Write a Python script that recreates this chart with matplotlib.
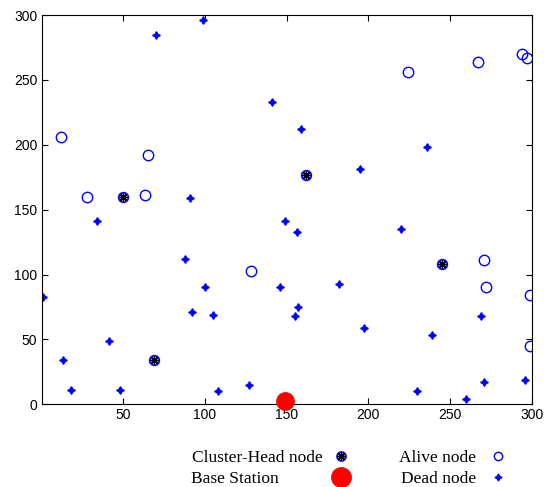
import matplotlib
matplotlib.use("Agg")
import matplotlib.pyplot as plt
from matplotlib.lines import Line2D
from matplotlib.legend_handler import HandlerTuple

# node positions
alive_x = [12, 28, 63, 65, 128, 224, 267, 294, 297, 271, 272, 299, 299]
alive_y = [206, 160, 161, 192, 103, 256, 264, 270, 267, 111, 90, 84, 45]

head_x = [50, 162, 69, 245]
head_y = [160, 177, 34, 108]

dead_x = [70, 99, 141, 91, 159, 236, 195, 34, 88, 1, 100, 92, 105, 41, 13, 18,
          48, 108, 127, 146, 149, 156, 220, 182, 157, 155, 269, 197, 239, 296,
          271, 230, 260]
dead_y = [285, 296, 233, 159, 212, 198, 181, 141, 112, 83, 90, 71, 69, 49, 34, 11,
          11, 10, 15, 90, 141, 133, 135, 93, 75, 68, 68, 59, 53, 19,
          17, 10, 4]

bs_x = [149]
bs_y = [2.5]

plt.rcParams['font.family'] = ['Liberation Sans', 'DejaVu Sans']

fig = plt.figure(figsize=(5.54, 4.87), dpi=100)
ax = fig.add_axes([0.075, 0.17, 0.885, 0.799])

dead_mk = (4, 1, 0)
asterisk = (8, 2, 0)

ax.plot(dead_x, dead_y, ls='none', marker=dead_mk, ms=5.5, color='blue')
ax.plot(alive_x, alive_y, ls='none', marker='o', ms=7.5, mfc='none', mec='blue', mew=1.0)
ax.plot(head_x, head_y, ls='none', marker='o', ms=7, mfc='none', mec='blue', mew=1.2)
ax.plot(head_x, head_y, ls='none', marker=asterisk, ms=6, color='black', mew=1.0)
ax.plot(bs_x, bs_y, ls='none', marker='o', ms=12.5, color='red', clip_on=False, zorder=5)

ax.set_xlim(0, 300)
ax.set_ylim(0, 300)
ax.set_xticks([50, 100, 150, 200, 250, 300])
ax.set_yticks([0, 50, 100, 150, 200, 250, 300])
ax.tick_params(direction='in', top=True, right=True, length=4, labelsize=10, pad=3)

h_head = (Line2D([], [], ls='none', marker='o', ms=6.5, mfc='none', mec='blue', mew=1.2),
          Line2D([], [], ls='none', marker=asterisk, ms=6, color='black', mew=1.0))
h_bs = Line2D([], [], ls='none', marker='o', ms=14, color='red')
h_alive = Line2D([], [], ls='none', marker='o', ms=6, mfc='none', mec='blue', mew=1.0)
h_dead = Line2D([], [], ls='none', marker=dead_mk, ms=5, color='blue')

fig.legend([h_head, h_bs, h_alive, h_dead],
           ['Cluster-Head node', 'Base Station' + ' ' * 10,
            'Alive node' + ' ', 'Dead node' + ' '],
           handler_map={tuple: HandlerTuple(ndivide=1)},
           ncol=2, markerfirst=False, frameon=False,
           loc='upper left', bbox_to_anchor=(0.332, 0.09), borderaxespad=0,
           prop={'family': 'Liberation Serif', 'size': 12.5},
           handlelength=1.5, handletextpad=0.3, columnspacing=2.6,
           labelspacing=0.25)

fig.savefig('out.png', dpi=100)
